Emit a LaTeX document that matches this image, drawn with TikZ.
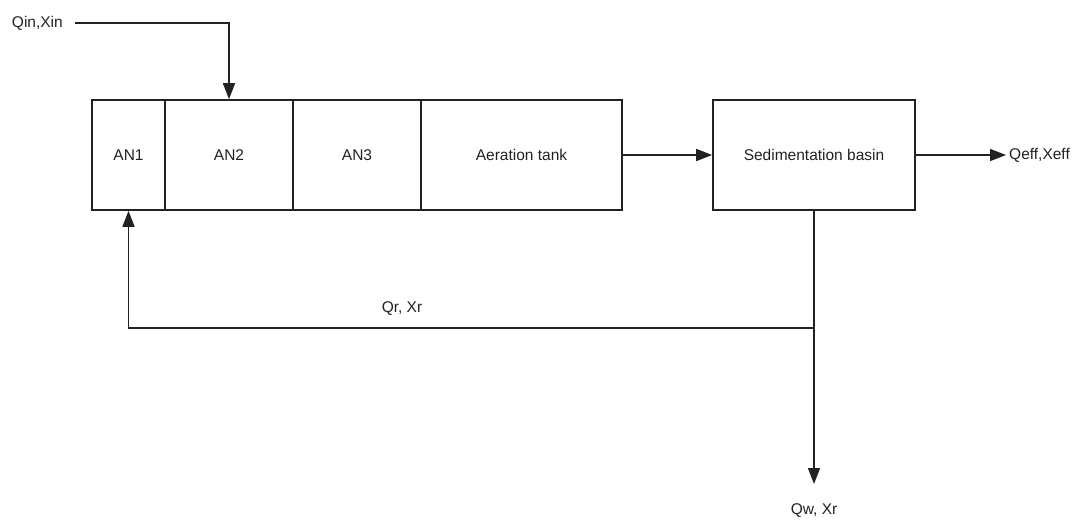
\documentclass[tikz,border=0pt]{standalone}
\usepackage{fontspec}
\setmainfont{Liberation Sans}
\usetikzlibrary{arrows.meta}
\definecolor{ink}{HTML}{222222}
\tikzset{
  tank/.style={draw=ink, line width=1.6pt, minimum height=110pt, inner sep=0pt, font=\fontsize{15.5}{18}\selectfont, text=ink},
  lbl/.style={inner sep=0pt, font=\fontsize{15.5}{18}\selectfont, text=ink},
  flow/.style={draw=ink, line width=1.6pt},
  arr/.style={flow, -{Triangle[length=16pt,width=12pt]}}
}
\begin{document}
\begin{tikzpicture}[x=1pt,y=-1pt]
\useasboundingbox (0,0) rectangle (1078,519);
\node[tank, minimum width=73pt]  (an1) at (128.5,155) {AN1};
\node[tank, minimum width=128pt] (an2) at (229,155) {AN2};
\node[tank, minimum width=128pt] (an3) at (357,155) {AN3};
\node[tank, minimum width=201pt] (aer) at (521.5,155) {Aeration tank};
\node[tank, minimum width=202pt] (sed) at (814,155) {Sedimentation basin};
\node[lbl, anchor=east] (qin) at (63,23) {Qin,Xin};
\node[lbl, anchor=west] (qeff) at (1009,155) {Qeff,Xeff};
\node[lbl] (qr) at (402,309) {Qr, Xr};
\node[lbl] (qw) at (814,511) {Qw, Xr};
\coordinate (qinS) at (75,23);
\coordinate (effE) at (1006,155);
\coordinate (j) at (814,328);
\coordinate (wE) at (814,484);
\draw[arr] (qinS) -| (an2.north);
\draw[arr] (aer.east) -- (sed.west);
\draw[arr] (sed.east) -- (effE);
\draw[arr] (sed.south) -- (wE);
\draw[arr] (j) -| (an1.south);
\end{tikzpicture}
\end{document}
